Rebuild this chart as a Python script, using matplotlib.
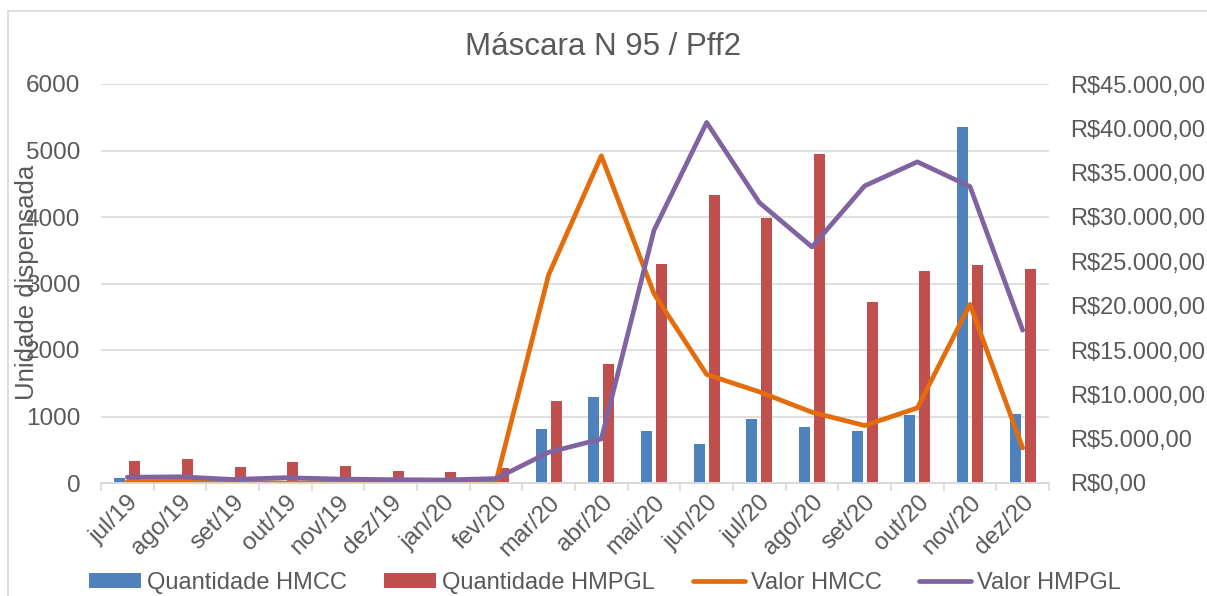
import numpy as np
import matplotlib.pyplot as plt
from matplotlib.ticker import FixedLocator, FuncFormatter

plt.rcParams['font.family'] = ['Liberation Sans', 'DejaVu Sans']

meses = ['jul/19', 'ago/19', 'set/19', 'out/19', 'nov/19', 'dez/19', 'jan/20', 'fev/20',
         'mar/20', 'abr/20', 'mai/20', 'jun/20', 'jul/20', 'ago/20', 'set/20', 'out/20',
         'nov/20', 'dez/20']
qtd_hmcc = [75, 30, 40, 10, 10, 10, 10, 10,
            819, 1295, 779, 583, 964, 839, 789, 1024, 5357, 1039]
qtd_hmpgl = [337, 367, 236, 312, 251, 186, 161, 226,
             1235, 1788, 3289, 4328, 3982, 4946, 2717, 3193, 3279, 3223]
valor_hmcc = [150, 180, 100, 0, 80, 60, 50, 150,
              23500, 36900, 21350, 12240, 10280, 7980, 6480, 8470, 20140, 3950]
valor_hmpgl = [650, 700, 400, 600, 450, 380, 340, 500,
               3460, 4970, 28500, 40660, 31630, 26620, 33510, 36220, 33430, 17240]

cinza = '#595959'
x = np.arange(len(meses))

fig = plt.figure(figsize=(12.07, 5.96), dpi=100)
ax = fig.add_axes([101/1207, 1 - 483/596, 948/1207, 399/596])
ax2 = ax.twinx()

b1 = ax.bar(x - 0.14, qtd_hmcc, width=0.21, color='#4F81BD', label='Quantidade HMCC', zorder=2)
b2 = ax.bar(x + 0.14, qtd_hmpgl, width=0.21, color='#C0504D', label='Quantidade HMPGL', zorder=2)
l1, = ax2.plot(x, valor_hmcc, color='#E46C0A', lw=3.4, solid_capstyle='round', label='Valor HMCC')
l2, = ax2.plot(x, valor_hmpgl, color='#8064A2', lw=3.4, solid_capstyle='round', label='Valor HMPGL')

ax.set_xlim(-0.5, len(meses) - 0.5)
ax.set_ylim(0, 6000)
ax.set_yticks(range(0, 6001, 1000))
ax2.set_ylim(0, 45000)
ax2.set_yticks(range(0, 45001, 5000))
ax2.yaxis.set_major_formatter(FuncFormatter(
    lambda v, p: 'R$' + f'{v:,.2f}'.replace(',', 'X').replace('.', ',').replace('X', '.')))

ax.yaxis.grid(True, color='#D9D9D9', lw=1.2)
ax.set_axisbelow(True)
for a in (ax, ax2):
    for s in ('top', 'left', 'right'):
        a.spines[s].set_visible(False)
    a.spines['bottom'].set_color('#D9D9D9')
    a.spines['bottom'].set_linewidth(1.2)

ax.set_xticks(x)
ax.set_xticklabels(meses, rotation=45, ha='right', rotation_mode='anchor', fontsize=17.5, color=cinza)
ax.tick_params(axis='x', which='major', length=0, pad=6)
ax.xaxis.set_minor_locator(FixedLocator(np.arange(-0.5, len(meses), 1)))
ax.tick_params(axis='x', which='minor', length=6, color='#D9D9D9', width=1.2)
ax.tick_params(axis='y', length=0, pad=15, labelsize=17.5, labelcolor=cinza)
ax2.tick_params(axis='y', length=0, pad=15, labelsize=17, labelcolor=cinza)

fig.text(0.5, 1 - 47/596, 'Máscara N 95 / Pff2', ha='center', va='center', fontsize=22.5, color=cinza)
fig.text(27/1207, 1 - 282/596, 'Unidade dispensada', rotation=90, ha='center', va='center',
         fontsize=18.5, color=cinza)

fig.legend([b1, b2, l1, l2], ['Quantidade HMCC', 'Quantidade HMPGL', 'Valor HMCC', 'Valor HMPGL'],
           loc='center', bbox_to_anchor=(605/1207, 1 - 583/596), ncol=4, frameon=False,
           fontsize=17, labelcolor=cinza, handlelength=2.2, handleheight=0.6,
           handletextpad=0.25, columnspacing=1.6, borderpad=0)

fig.patches.append(plt.Rectangle((8/1207, -0.1), 1.2, 1 - 11/596 + 0.1, transform=fig.transFigure,
                                 fill=False, edgecolor='#D9D9D9', lw=1.2))

fig.savefig('out.png', dpi=100)
